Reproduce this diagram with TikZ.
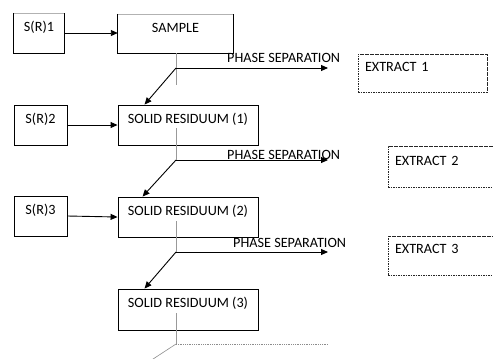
\documentclass[tikz,border=0pt]{standalone}
\usepackage{fontspec}
\setmainfont{Carlito}
\usetikzlibrary{arrows.meta,calc}

\begin{document}
\begin{tikzpicture}[x=1bp,y=-1bp,
  every node/.style={font=\fontsize{14.2bp}{17bp}\selectfont, inner sep=0pt},
  box/.style={draw=black, line width=0.9bp, minimum width=#1, text height=18bp},
  openbox/.style={draw=none, minimum width=#1, text height=18bp},
  extract/.style={draw=black!85, line width=0.6bp, dash pattern=on 1.6bp off 0.9bp,
    inner xsep=7bp, text width=#1, align=left},
  arr/.style={draw=black, line width=0.9bp, -{Triangle[length=7bp,width=6bp]}},
  stem/.style={draw=black!40, line width=0.9bp},
  label/.style={anchor=base west}]

\clip (0,0) rectangle (493,358);

% solvent and sample boxes of the first step (top edge faint)
\node[openbox=50bp, text depth=22bp] (sr1) at (39,33) {S(R)1};
\node[openbox=115bp, text depth=21bp] (sample) at (175.5,33.5) {SAMPLE};
\foreach \n in {sr1,sample}{
  \draw[line width=0.9bp] (\n.north west) -- (\n.south west) -- (\n.south east) -- (\n.north east);
  \draw[black!30, line width=0.6bp] (\n.north west) -- (\n.north east);
}

% later steps
\node[box=53bp, text depth=22bp] (sr2) at (40.5,125) {S(R)2};
\node[box=140bp, text depth=22bp] (res1) at (188,125) {SOLID RESIDUUM (1)};
\node[box=53bp, text depth=22bp] (sr3) at (40.5,216) {S(R)3};
\node[box=140bp, text depth=22bp] (res2) at (188,217) {SOLID RESIDUUM (2)};
\node[box=140bp, text depth=23bp] (res3) at (188,309.5) {SOLID RESIDUUM (3)};

% extracts
\node[extract=115bp, text height=17bp, text depth=21bp] (ext1) at (422.5,73) {EXTRACT 1};
\node[extract=108bp, text height=19.5bp, text depth=21.5bp] (ext2) at (449,166.5) {EXTRACT 2};
\node[extract=108bp, text height=17bp, text depth=22bp] (ext3) at (449,255.5) {EXTRACT 3};

% solvent inlets
\draw[arr] (sr1.east) -- (sr1.east -| sample.west);
\draw[arr] (sr2) -- (res1);
\draw[arr] (sr3.east) -- (res2.west);

% phase separation junctions
\coordinate (j0) at (176,68);
\coordinate (j1) at (176,160);
\coordinate (j2) at (176,252);
\coordinate (j3) at (176,344);
\coordinate (e0) at (328,68);
\coordinate (e1) at (328,160);
\coordinate (e2) at (328,252);
\coordinate (e3) at (328,344);
\coordinate (d3) at (150,361);

\draw[stem] (j0 |- sample.south) -- ++(0,32);
\draw[stem] (j1) -- ++(0,-32);
\draw[stem] (j2) -- ++(0,-31);
\draw[stem] (j3) -- ++(0,-31);

\draw[arr] (j0) -- (e0);
\draw[arr] (j1) -- (e1);
\draw[arr] (j2) -- (e2);

\draw[arr] (j0) -- ($(res1.north west)+(27,0)$);
\draw[arr] (j1) -- ($(res2.north west)+(25,0)$);
\draw[arr] (j2) -- ($(res3.north west)+(27,0)$);

\draw[black!45, line width=0.7bp, dash pattern=on 1bp off 0.8bp] (j3) -- (e3);
\draw[black!45, line width=0.6bp] (j3) -- (d3);

% labels
\node[label] (ps1) at (227,62) {PHASE SEPARATION};
\node[label] (ps2) at (227,159.6) {PHASE SEPARATION};
\node[label] (ps3) at (233,247.5) {PHASE SEPARATION};

\end{tikzpicture}
\end{document}
